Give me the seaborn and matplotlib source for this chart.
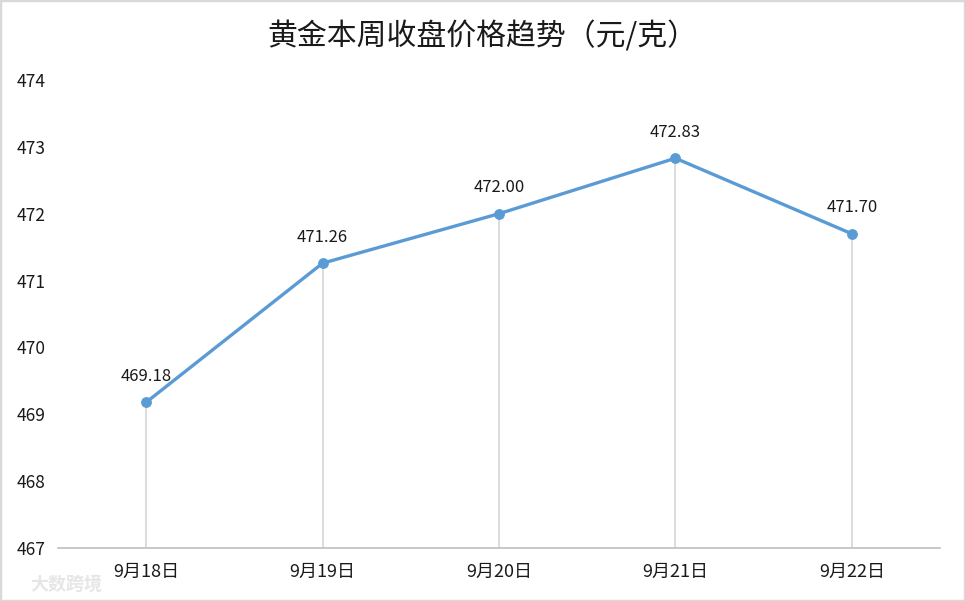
import matplotlib
matplotlib.use("Agg")
import matplotlib.pyplot as plt
import seaborn as sns
import pandas as pd
from matplotlib.patches import Rectangle

dates = ["9月18日", "9月19日", "9月20日", "9月21日", "9月22日"]
prices = [469.18, 471.26, 472.00, 472.83, 471.70]
title = "黄金本周收盘价格趋势（元/克）"
yticks = [467, 468, 469, 470, 471, 472, 473, 474]

sns.set_theme(style="white")
plt.rcParams['font.family'] = ['Noto Sans CJK SC', 'DejaVu Sans']

df = pd.DataFrame({"date": dates, "price": prices, "pos": range(len(dates))})

fig = plt.figure(figsize=(9.65, 6.01), dpi=100)
ax = fig.add_axes([58/965, 53/601, (940-58)/965, (548-80)/601])

# drop lines
ax.vlines(df["pos"], yticks[0], df["price"], colors="#D9D9D9", linewidth=1.3, zorder=1)

sns.lineplot(data=df, x="pos", y="price", ax=ax, color="#5B9BD5", linewidth=2.4,
             marker="o", markersize=7, markeredgecolor="#5B9BD5", zorder=3)

for p, v in zip(df["pos"], df["price"]):
    ax.annotate(f"{v:.2f}", (p, v), xytext=(0, 26), textcoords="offset pixels",
                ha="center", va="center", fontsize=12, color="#1a1a1a")

ax.set_xlim(-0.5, len(dates) - 0.5)
ax.set_ylim(yticks[0], yticks[-1])
ax.set_yticks(yticks)
ax.set_yticklabels([str(t) for t in yticks], fontsize=12.5, color="#1a1a1a")
ax.set_xticks(range(len(dates)))
ax.set_xticklabels(dates, fontsize=13, color="#1a1a1a")
ax.tick_params(axis="x", length=0, pad=11)
ax.tick_params(axis="y", length=0, pad=30)
for lbl in ax.get_yticklabels():
    lbl.set_horizontalalignment("left")
ax.set_xlabel("")
ax.set_ylabel("")
for s in ["top", "right", "left"]:
    ax.spines[s].set_visible(False)
ax.spines["bottom"].set_color("#BFBFBF")
ax.spines["bottom"].set_linewidth(1.2)
ax.grid(False)

fig.text(0.5, 1 - 37/601, title, ha="center", va="center", fontsize=21.5, color="#1a1a1a")

# watermark
fig.text(30/965, 1 - 584/601, "大数跨境", ha="left", va="center", fontsize=13,
         color="#E6E6E6", fontweight="bold")

# border
fig.patches.append(Rectangle((0, 0), 1, 1, transform=fig.transFigure, fill=False,
                             edgecolor="#D9D9D9", linewidth=2.5))

fig.savefig("out.png", dpi=100)
